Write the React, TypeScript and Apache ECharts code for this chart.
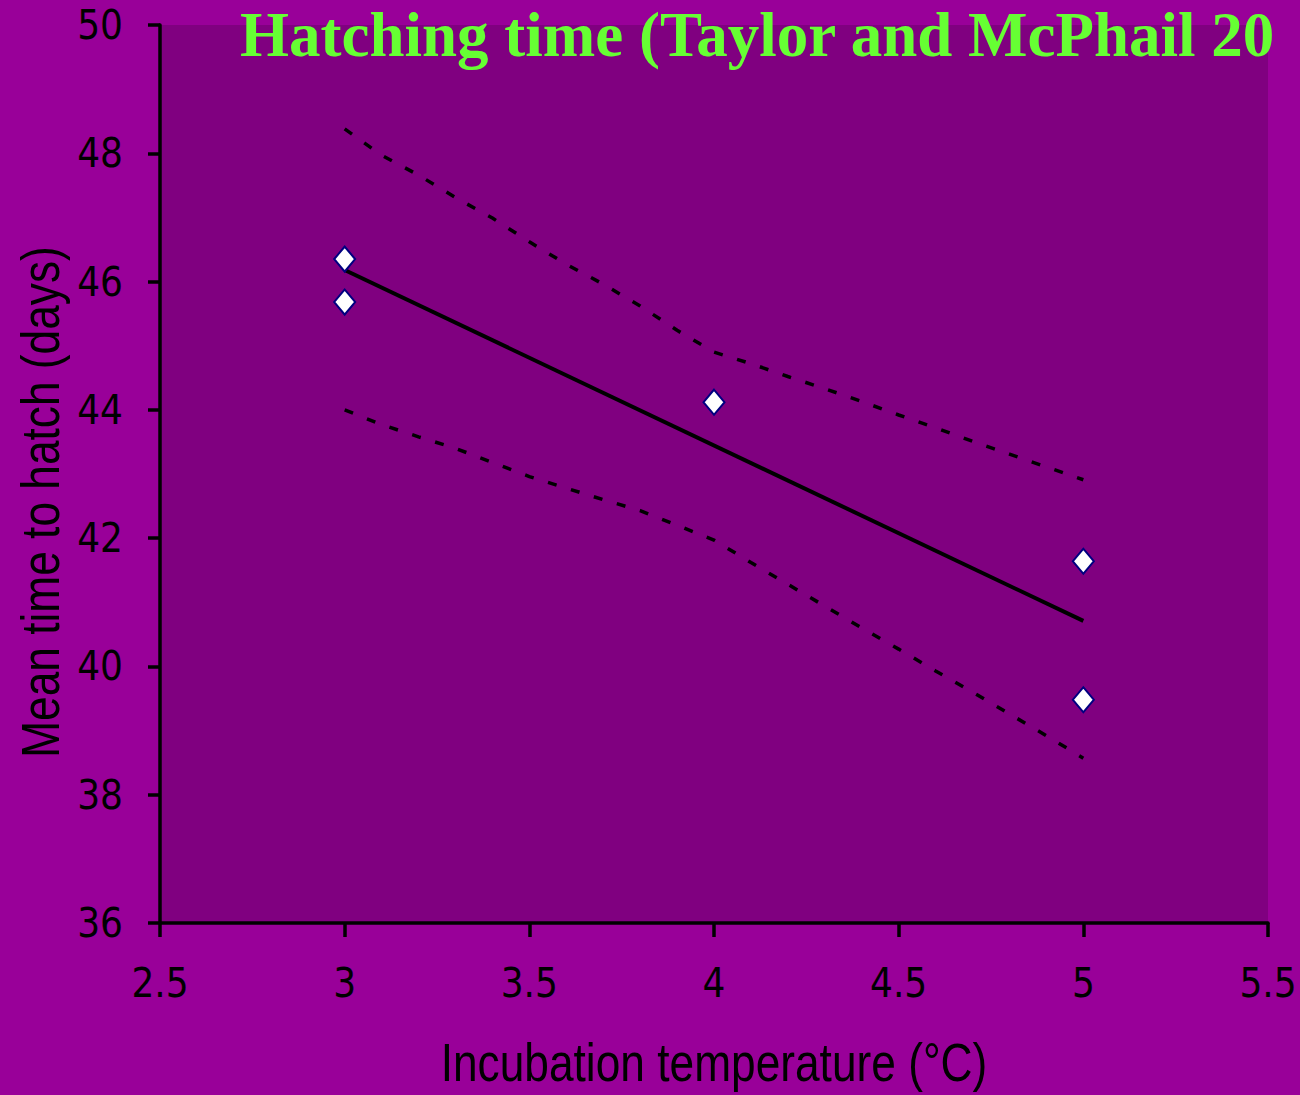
import React, { useEffect, useRef } from "react";
import * as echarts from "echarts";

const titleText = "Hatching time (Taylor and McPhail 20";
const xAxisTitle = "Incubation temperature (°C)";
const yAxisTitle = "Mean time to hatch (days)";

const obsX = [3, 3, 4, 5, 5];
const obsY = [46.35, 45.68, 44.12, 41.64, 39.48];

const fitX = [3, 5];
const fitY = [46.18, 40.71];

const ciX = [3.0, 3.1, 3.2, 3.3, 3.4, 3.5, 3.6, 3.7, 3.8, 3.9, 4.0, 4.1, 4.2, 4.3, 4.4, 4.5, 4.6, 4.7, 4.8, 4.9, 5.0];
const ciUpper = [48.38, 47.97, 47.66, 47.31, 46.99, 46.62, 46.27, 45.96, 45.62, 45.24, 44.9, 44.72, 44.52, 44.33, 44.13, 43.92, 43.72, 43.51, 43.31, 43.11, 42.91];
const ciLower = [44.0, 43.77, 43.58, 43.4, 43.18, 42.96, 42.78, 42.6, 42.43, 42.2, 41.97, 41.62, 41.28, 40.94, 40.6, 40.27, 39.93, 39.6, 39.26, 38.92, 38.57];

const xMin = 2.5, xMax = 5.5, xStep = 0.5;
const yMin = 36, yMax = 50, yStep = 2;

const COND = "'DejaVu Sans Condensed', 'Liberation Sans Narrow', 'Liberation Sans', sans-serif";
const SANS = "'Liberation Sans', Arial, sans-serif";

function zip(xs: number[], ys: number[]) {
  return xs.map((x, i) => [x, ys[i]]);
}

export default function App() {
  const ref = useRef<HTMLDivElement>(null);
  useEffect(() => {
    if (!ref.current) return;
    const chart = echarts.init(ref.current, null, { renderer: "svg" });
    const dash = { color: "#000000", width: 3.5, type: [9, 15] as any };
    chart.setOption({
      animation: false,
      backgroundColor: "#990099",
      grid: {
        left: 160, top: 25, right: 32, bottom: 172,
        show: true, backgroundColor: "#800080", borderWidth: 0,
      },
      xAxis: {
        type: "value", min: xMin, max: xMax, interval: xStep,
        axisLine: { show: true, onZero: false, lineStyle: { color: "#000", width: 3.5 } },
        axisTick: { show: true, length: 14, lineStyle: { color: "#000", width: 3.5 } },
        axisLabel: { color: "#000", fontFamily: COND, fontSize: 40, margin: 40 },
        splitLine: { show: false },
      },
      yAxis: {
        type: "value", min: yMin, max: yMax, interval: yStep,
        axisLine: { show: true, onZero: false, lineStyle: { color: "#000", width: 3.5 } },
        axisTick: { show: true, length: 12, lineStyle: { color: "#000", width: 3.5 } },
        axisLabel: { color: "#000", fontFamily: COND, fontSize: 40, margin: 37 },
        splitLine: { show: false },
      },
      graphic: [
        {
          type: "text", left: 240, top: 3,
          style: { text: titleText, fill: "#66FF33", font: "bold 63px 'Liberation Serif', 'Times New Roman', serif" },
        },
        {
          type: "text", x: 714, y: 1062, scaleX: 0.82,
          style: { text: xAxisTitle, fill: "#000", font: `54px ${SANS}`, align: "center", verticalAlign: "middle" },
        },
        {
          type: "text", x: 40, y: 502, rotation: Math.PI / 2, scaleX: 0.82,
          style: { text: yAxisTitle, fill: "#000", font: `54px ${SANS}`, align: "center", verticalAlign: "middle" },
        },
      ],
      series: [
        { type: "line", data: zip(ciX, ciUpper), symbol: "none", lineStyle: dash, z: 2 },
        { type: "line", data: zip(ciX, ciLower), symbol: "none", lineStyle: dash, z: 2 },
        { type: "line", data: zip(fitX, fitY), symbol: "none", lineStyle: { color: "#000", width: 4 }, z: 3 },
        {
          type: "scatter", data: zip(obsX, obsY), symbol: "diamond", symbolSize: [21, 25],
          itemStyle: { color: "#ffffff", borderColor: "#000080", borderWidth: 2, opacity: 1 }, z: 4,
        },
      ],
    });
    return () => chart.dispose();
  }, []);
  return <div ref={ref} style={{ width: 1300, height: 1095, position: "absolute", left: 0, top: 0 }} />;
}
